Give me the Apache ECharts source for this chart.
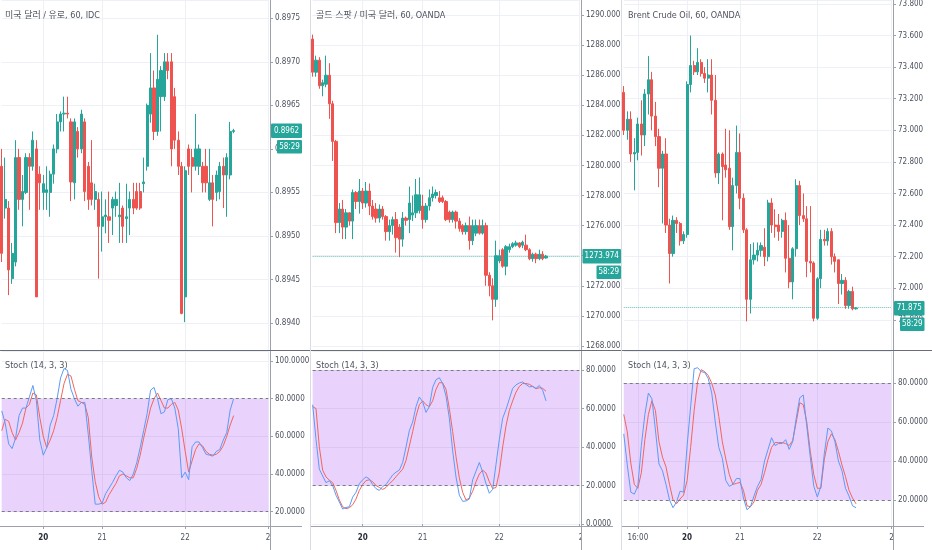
<!DOCTYPE html>
<html>
<head>
<meta charset="utf-8">
<title>Charts</title>
<script src="https://cdn.jsdelivr.net/npm/echarts@6.0.0/dist/echarts.min.js"></script>
<style>
html,body{margin:0;padding:0;background:#ffffff;}
#chart{width:932px;height:550px;}
</style>
</head>
<body>
<div id="chart"></div>
<script>
// ================= DATA =================
const p1Title = '미국 달러 / 유로, 60, IDC';
const p2Title = '골드 스팟 / 미국 달러, 60, OANDA';
const p3Title = 'Brent Crude Oil, 60, OANDA';
const stochTitle = 'Stoch (14, 3, 3)';
const timerText = '58:29';

const p1DayIdx = [12, 29, 53, 77];
const p1DayText = ['20', '21', '22', '23'];
const p2DayIdx = [15, 33, 56, 80];
const p2DayText = ['20', '21', '22', '23'];
const p3DayIdx = [4, 18, 33, 55, 76];
const p3DayText = ['16:00', '20', '21', '22', '23'];

// USD/EUR 60
const p1Open = [0.8958,0.89532,0.89532,0.89451,0.8947,0.8959,0.89542,0.8955,0.8959,0.8958,
0.8960,0.89571,0.8955,0.8955,0.8955,0.89571,0.8960,0.89631,0.8964,0.89641,
0.89631,0.89561,0.8962,0.8960,0.89631,0.8958,0.89561,0.89542,0.89542,0.89511,
0.89522,0.89522,0.89532,0.89535,0.89522,0.89532,0.8952,0.89532,0.89542,0.89551,
0.89551,0.8956,0.8958,0.8964,0.8967,0.8962,0.8966,0.8966,0.8970,0.8970,
0.8966,0.8961,0.8958,0.8943,0.8960,0.8959,0.8958,0.8958,0.8958,0.8958,
0.89542,0.89561,0.8955,0.89551,0.8958,0.8957,0.8957,0.8962];
const p1Close = [0.8948,0.89542,0.89461,0.8948,0.8959,0.89542,0.89551,0.8959,0.8958,0.8961,
0.8943,0.89561,0.8956,0.89553,0.89571,0.8960,0.89631,0.8964,0.89641,0.8964,
0.89562,0.89631,0.8960,0.8964,0.89551,0.89542,0.89542,0.89551,0.89511,0.89522,
0.89524,0.89518,0.89542,0.89542,0.89524,0.89511,0.89522,0.89542,0.89532,0.89532,
0.89532,0.89562,0.8965,0.8967,0.8962,0.8968,0.8969,0.8970,0.8969,0.8960,
0.8961,0.8958,0.89411,0.89575,0.8958,0.8958,0.8960,0.8960,0.89561,0.89561,
0.89561,0.89542,0.8957,0.8958,0.8957,0.8959,0.8962,0.89621];
const p1Low = [0.8947,0.8952,0.89432,0.89445,0.89465,0.8953,0.89511,0.89548,0.8953,0.89575,
0.8943,0.8953,0.8953,0.8953,0.89522,0.8956,0.89595,0.8962,0.8962,0.89635,
0.8954,0.89542,0.8959,0.89595,0.8954,0.8953,0.89535,0.8953,0.89451,0.89482,
0.89503,0.89492,0.89501,0.89522,0.89492,0.89492,0.89492,0.89501,0.89525,0.8953,
0.8953,0.8955,0.89575,0.8963,0.8961,0.89615,0.8962,0.89655,0.8968,0.8958,
0.8960,0.8957,0.8941,0.89401,0.8957,0.8955,0.89575,0.8957,0.8955,0.8955,
0.8954,0.89511,0.8954,0.89542,0.89532,0.89522,0.89565,0.89618];
const p1High = [0.8960,0.8959,0.8954,0.89492,0.8961,0.8960,0.8957,0.89595,0.89595,0.8962,
0.8961,0.8958,0.8957,0.8958,0.89575,0.89605,0.8964,0.89643,0.8966,0.8966,
0.89635,0.89635,0.89625,0.89645,0.89635,0.89585,0.8961,0.8956,0.8955,0.89551,
0.89542,0.89551,0.89545,0.89551,0.89561,0.89535,0.8956,0.89551,0.89561,0.89561,
0.89561,0.8959,0.89652,0.8971,0.8969,0.89731,0.89695,0.8971,0.8971,0.8971,
0.8967,0.8962,0.89585,0.8958,0.89605,0.8960,0.8964,0.89605,0.89585,0.8960,
0.8960,0.8957,0.89575,0.89585,0.8959,0.89595,0.89631,0.89623];
const p1K = [73.5,67,56,53.5,59,71,75,75,81,87,
79,58,50,54,66,71,80,91,96,95,
85,80,76,78,78,61,42,24,24,24.5,
29.5,32.5,35.5,39,42,41,38,36.5,40,46,
54,63,72,84.5,86,80,72,73,79.5,80,
75,64,38,41,37,54.5,57,57,54,50.5,
50,49.5,52,53,58,62,74,80];
const p1D = [63,69,68,62,58,62,67,75,77,83,
82,70,60,54,58,63,70,79,88,93,
92,85,79,78,77,70,49,36,28,24,
25,29,32,35,39,40,39,38,38,43,
50,59,67,75,80,83,79,75,75,77,
78,74,64,52,41,47,53,56,55,52,
50.5,50,50.5,52,55,60,66,71];

// Gold spot / USD 60
const p2Open = [1288.4,1286.2,1287.0,1285.3,1285.4,1286.0,1284.1,1281.6,1276.2,1277.1,
1275.9,1276.85,1276.3,1278.2,1277.6,1278.3,1277.5,1278.3,1277.3,1277.1,
1276.5,1277.1,1276.6,1275.6,1276.0,1276.4,1275.9,1275.1,1276.5,1276.4,
1276.7,1276.85,1277.0,1277.3,1276.4,1277.3,1277.85,1278.0,1277.85,1277.85,
1277.6,1276.9,1276.4,1276.9,1276.3,1276.0,1275.6,1276.0,1275.0,1275.5,
1276.0,1275.5,1276.0,1272.7,1272.0,1271.1,1273.65,1274.4,1273.3,1274.4,
1274.6,1274.7,1274.85,1274.7,1274.7,1274.4,1273.8,1274.1,1273.8,1274.1,
1273.85];
const p2Close = [1286.2,1287.0,1285.3,1285.5,1286.0,1284.1,1281.6,1276.2,1277.1,1275.9,
1276.85,1276.3,1278.2,1277.6,1278.3,1277.5,1278.3,1277.3,1276.6,1276.5,
1277.1,1276.6,1275.6,1276.0,1276.4,1275.2,1275.1,1276.5,1276.35,1277.5,
1276.85,1278.05,1278.05,1276.4,1277.3,1277.85,1278.1,1278.2,1277.6,1277.6,
1276.4,1276.4,1276.9,1276.3,1275.8,1275.6,1276.0,1275.0,1276.0,1276.0,
1275.5,1276.0,1272.7,1272.0,1271.1,1274.0,1274.0,1273.3,1274.6,1274.6,
1274.8,1274.85,1274.6,1274.9,1274.4,1273.8,1274.1,1273.8,1274.1,1273.8,
1273.974];
const p2Low = [1285.9,1285.9,1285.1,1284.6,1285.2,1283.1,1280.3,1275.5,1275.5,1275.1,
1275.1,1276.0,1275.1,1277.1,1276.8,1277.1,1277.2,1276.7,1276.4,1276.2,
1276.2,1276.4,1275.0,1275.0,1275.4,1274.2,1273.9,1274.6,1276.0,1275.5,
1276.3,1276.5,1276.8,1275.8,1276.2,1277.0,1277.6,1277.8,1277.5,1277.5,
1276.3,1276.2,1276.2,1275.8,1275.6,1275.4,1275.4,1274.4,1274.7,1275.3,
1275.4,1275.4,1272.0,1271.3,1269.7,1270.6,1273.5,1273.2,1272.7,1274.2,
1274.5,1274.6,1274.5,1274.5,1274.3,1273.7,1273.6,1273.5,1273.7,1273.7,
1273.8];
const p2High = [1288.7,1287.3,1287.2,1285.7,1287.3,1286.8,1284.3,1281.7,1277.5,1277.7,
1277.1,1276.9,1278.4,1278.3,1279.1,1278.5,1278.9,1278.8,1277.7,1277.5,
1277.4,1277.3,1276.7,1276.4,1276.6,1276.9,1276.1,1276.9,1276.6,1278.6,
1278.0,1279.1,1279.2,1278.05,1277.5,1278.4,1278.6,1278.4,1278.3,1278.0,
1277.7,1277.0,1277.0,1277.0,1276.5,1276.1,1276.2,1276.6,1276.4,1276.4,
1276.4,1276.4,1276.2,1272.9,1272.5,1275.0,1274.4,1274.5,1274.7,1274.8,
1274.9,1275.0,1274.9,1275.0,1275.4,1274.5,1274.2,1274.2,1274.4,1274.3,
1274.05];
const p2K = [62,44,28.5,25,21.5,22.5,20,15,11.5,7.8,
8.6,9,14,16.5,21,23,24.5,23.5,20.5,18.4,
17.5,19.5,20.5,23,25.5,27,28,32,40,48.5,
53,61,66,63.5,58,61,71,75,76,73,
66.5,55,38,24.5,15,11.8,12,13,23,27.5,
32,27,21,16,18,31,44,55,59.5,65,
70.5,72.3,73.3,73.8,72.5,71.3,71.5,70.5,72,69.5,
64];
const p2D = [61,60,40,28,24.5,22.8,21.5,17.5,12.5,9,
8,8.5,10,13,17.5,20.5,22.6,23,22,20,
19,18,19,21,22.5,24.6,26.6,28.5,33,40.5,
48,56,62,64,62,61,64,70,73.5,73.3,
70,60,48,35,24,16.5,12.5,13.5,17,22,
26,28,26.5,22,18.5,19,27,40,51,59,
64,68.5,71.5,73,73,72.6,71.5,70.3,70.8,70.5,
69];

// Brent crude oil 60
const p3Open = [73.24,73.0,73.07,72.85,72.86,73.04,72.97,73.23,73.32,73.09,
72.96,72.76,72.85,72.4,72.22,72.43,72.41,72.3,72.34,73.29,
73.41,73.37,73.43,73.36,73.33,73.35,73.19,72.73,72.85,72.78,
72.76,72.39,72.65,72.86,72.57,72.37,71.93,72.18,72.21,72.24,
72.26,72.2,72.54,72.4,72.4,72.36,72.43,72.19,72.04,72.25,
72.65,72.46,72.44,72.17,72.16,71.81,72.06,72.31,72.3,72.36,
72.2,72.18,72.03,72.05,71.89,71.98,71.87];
const p3Close = [73.0,73.07,72.85,72.86,73.04,72.97,73.23,73.32,73.09,72.96,
72.76,72.85,72.4,72.22,72.43,72.41,72.3,72.34,73.29,73.41,
73.37,73.43,73.36,73.33,73.35,73.19,72.73,72.85,72.77,72.75,
72.39,72.65,72.86,72.57,72.37,71.93,72.18,72.21,72.24,72.27,
72.2,72.54,72.4,72.39,72.36,72.43,72.19,72.04,72.25,72.65,
72.46,72.44,72.17,72.16,71.81,72.06,72.31,72.3,72.36,72.2,
72.17,72.03,72.05,71.89,71.98,71.87,71.875];
const p3Low = [72.97,72.94,72.8,72.62,72.81,72.84,72.9,73.1,73.0,72.9,
72.64,72.41,72.35,72.03,72.2,72.35,72.27,72.28,72.32,73.24,
73.35,73.35,73.34,73.3,73.24,73.1,72.7,72.66,72.43,72.7,
72.37,72.24,72.6,72.5,72.35,71.79,71.84,72.15,72.17,72.2,
72.14,72.17,72.35,72.32,72.3,72.32,72.1,72.0,71.93,72.2,
72.4,72.42,72.07,72.1,71.79,71.8,72.0,72.27,72.27,72.15,
72.1,71.9,71.96,71.87,71.87,71.86,71.865];
const p3High = [73.28,73.12,73.12,72.95,73.08,73.19,73.26,73.47,73.37,73.18,
73.01,72.87,72.95,72.44,72.46,72.45,72.42,72.36,73.31,73.6,
73.44,73.52,73.45,73.4,73.45,73.45,73.35,72.86,72.86,73.01,
73.0,72.7,73.03,72.98,72.6,72.38,72.28,72.29,72.29,72.29,
72.38,72.56,72.57,72.5,72.47,72.44,72.48,72.4,72.26,72.69,
72.68,72.6,72.52,72.52,72.17,72.07,72.37,72.37,72.38,72.38,
72.22,72.18,72.09,72.07,71.99,72.01,71.88];
const p3K = [54,38,24,23,27,48,64,75,72,56,
38.5,35,28,20,16,19,24.5,24,48,68,
87.5,88,86,85.5,82.5,75,60,47,41.5,30,
27,28,31,31,21,15,16.5,22,27,30.5,
40,46,52,48,49,49,51,46,50,62,
72.5,74,58,42,27,21.5,27,44,57,55.5,
50,40,35,26,22,17,16];
const p3D = [64,55,39,28,26,34,51,64,71,66,
50,42,37,28,20,18,20.5,22.5,30,47,
66,81,87,86,84,80,74,63,50,41,
33,28,28.5,29,25,17,16.5,19,25,28,
34,41,47,49.5,49.5,49.5,49,48,50.5,60,
70,69,60,45,33,26,26,41,50,54,
51,45,38,32,25,21,18];

const stochBandLow = 20;
const stochBandHigh = 80;

// ================= STYLE / LAYOUT =================
const UP = '#26a69a', DOWN = '#ef5350';
const K_COLOR = '#5b9bf8', D_COLOR = '#f4645a';
const TITLE_FONT = '"DejaVu Sans Condensed","Noto Sans CJK KR",sans-serif';
const AXIS_FONT = '"DejaVu Sans Condensed","Liberation Sans",sans-serif';
const TFS = 9;
const AFS = 8;
const LABEL_COLOR = '#4c525e';
const TITLE_COLOR = '#50535e';
const GRID_COLOR = '#edf0f5';
const AXIS_COLOR = '#9ea1a9';

const panels = [
  {L:0, W:270, N:78, end:310, titleX:5, yMin:0.89369, yMax:0.89771, split:8, dec:4,
   sMin:12.4, sMax:105.3, boxR:302, boxW:31, box2W:25, pad:4,
   title:p1Title, open:p1Open, close:p1Close, low:p1Low, high:p1High, k:p1K, d:p1D,
   dayIdx:p1DayIdx, dayText:p1DayText},
  {L:311, W:270, N:81, end:621, titleX:316, yMin:1267.73, yMax:1291.0, split:12, dec:3,
   sMin:-1.0, sMax:89.9, boxR:621, boxW:38.5, box2W:24.5, pad:8,
   title:p2Title, open:p2Open, close:p2Close, low:p2Low, high:p2High, k:p2K, d:p2D,
   dayIdx:p2DayIdx, dayText:p2DayText},
  {L:622, W:271, N:77, end:932, titleX:628, yMin:71.609, yMax:73.825, split:11, dec:3,
   sMin:6.6, sMax:96.6, boxR:924.5, boxW:30.5, box2W:24.5, pad:5,
   title:p3Title, open:p3Open, close:p3Close, low:p3Low, high:p3High, k:p3K, d:p3D,
   dayIdx:p3DayIdx, dayText:p3DayText}
];

const grid = [], xAxis = [], yAxis = [], series = [];

panels.forEach((p, k) => {
  const s = p.W / p.N;
  const left = p.L + s / 2, width = (p.N - 1) * s;
  grid.push({left: left, top: 0, width: width, height: 350, containLabel: false, outerBoundsMode: 'none'});
  grid.push({left: left, top: 351, width: width, height: 175, containLabel: false, outerBoundsMode: 'none'});
  const cats = [];
  for (let i = 0; i < p.N; i++) cats.push(String(i));
  const isDay = (idx) => p.dayIdx.indexOf(idx) >= 0;
  const splitX = {show: true, interval: (idx) => isDay(idx), lineStyle: {color: GRID_COLOR, width: 1}};
  xAxis.push({type: 'category', gridIndex: 2 * k, data: cats, boundaryGap: false,
    axisLine: {show: false}, axisTick: {show: false}, axisLabel: {show: false}, splitLine: splitX});
  xAxis.push({type: 'category', gridIndex: 2 * k + 1, data: cats, boundaryGap: false,
    axisLine: {show: false},
    axisTick: {show: true, interval: (idx) => isDay(idx), length: 3, lineStyle: {color: AXIS_COLOR}},
    axisLabel: {show: true, interval: (idx) => isDay(idx), margin: 8, fontSize: AFS, fontFamily: AXIS_FONT,
      color: LABEL_COLOR,
      formatter: function (v, idx) {
        const j = p.dayIdx.indexOf(idx);
        if (j < 0) return '';
        const t = p.dayText[j];
        if (j === p.dayIdx.length - 1) return '{c|' + t + '}';
        if (t === '20') return '{b|' + t + '}';
        return t;
      },
      rich: {
        b: {fontWeight: 'bold', color: '#2a2e39', fontSize: AFS, fontFamily: AXIS_FONT},
        c: {padding: [0, 0, 0, p.pad], color: LABEL_COLOR, fontSize: AFS, fontFamily: AXIS_FONT}
      }},
    splitLine: splitX});

  yAxis.push({type: 'value', gridIndex: 2 * k, position: 'right', offset: s / 2,
    min: p.yMin, max: p.yMax, splitNumber: p.split,
    axisLine: {show: false},
    axisTick: {show: true, length: 3, lineStyle: {color: AXIS_COLOR}},
    axisLabel: {margin: 5, fontSize: AFS, fontFamily: AXIS_FONT, color: LABEL_COLOR,
      showMinLabel: false, showMaxLabel: false, formatter: (v) => v.toFixed(p.dec)},
    splitLine: {show: true, lineStyle: {color: GRID_COLOR}}});
  yAxis.push({type: 'value', gridIndex: 2 * k + 1, position: 'right', offset: s / 2,
    min: p.sMin, max: p.sMax, splitNumber: 5,
    axisLine: {show: false},
    axisTick: {show: true, length: 3, lineStyle: {color: AXIS_COLOR}},
    axisLabel: {margin: 5, fontSize: AFS, fontFamily: AXIS_FONT, color: LABEL_COLOR,
      showMinLabel: false, showMaxLabel: false, formatter: (v) => v.toFixed(4)},
    splitLine: {show: true, lineStyle: {color: GRID_COLOR}}});

  series.push({type: 'candlestick', xAxisIndex: 2 * k, yAxisIndex: 2 * k, clip: false,
    barWidth: 2.6, silent: true,
    data: p.open.map((o, i) => [o, p.close[i], p.low[i], p.high[i]]),
    itemStyle: {color: UP, color0: DOWN, borderColor: UP, borderColor0: DOWN, borderWidth: 1},
    markLine: {silent: true, symbol: ['none', 'none'], label: {show: false}, animation: false,
      lineStyle: {color: UP, type: 'dotted', width: 1, opacity: 0.7},
      data: [{yAxis: p.close[p.close.length - 1]}]}});
  series.push({type: 'line', xAxisIndex: 2 * k + 1, yAxisIndex: 2 * k + 1, data: p.d,
    symbol: 'none', silent: true, z: 2,
    lineStyle: {color: D_COLOR, width: 1}, itemStyle: {color: D_COLOR},
    markArea: {silent: true, animation: false, itemStyle: {color: 'rgba(160,60,240,0.23)'},
      data: [[{yAxis: stochBandLow}, {yAxis: stochBandHigh}]]},
    markLine: {silent: true, animation: false, symbol: ['none', 'none'], label: {show: false},
      lineStyle: {color: '#787b86', type: [3, 3], width: 1},
      data: [{yAxis: stochBandHigh}, {yAxis: stochBandLow}]}});
  series.push({type: 'line', xAxisIndex: 2 * k + 1, yAxisIndex: 2 * k + 1, data: p.k,
    symbol: 'none', silent: true, z: 3,
    lineStyle: {color: K_COLOR, width: 1}, itemStyle: {color: K_COLOR}});
});

const chart = echarts.init(document.getElementById('chart'), null, {renderer: 'canvas'});
chart.setOption({
  animation: false,
  backgroundColor: '#ffffff',
  grid: grid, xAxis: xAxis, yAxis: yAxis, series: series
});

// ---- overlay: separators, titles, price labels ----
const gfx = [];
panels.forEach((p, k) => {
  const ax = p.L + p.W + 0.5;
  gfx.push({type: 'rect', silent: true, z: 100, shape: {x: ax, y: 527, width: p.end - ax, height: 23}, style: {fill: '#ffffff'}});
  gfx.push({type: 'line', silent: true, z: 101, shape: {x1: ax, y1: 0, x2: ax, y2: 550}, style: {stroke: AXIS_COLOR, lineWidth: 1}});
  gfx.push({type: 'line', silent: true, z: 101, shape: {x1: p.L, y1: 526.5, x2: p.end - 8, y2: 526.5}, style: {stroke: AXIS_COLOR, lineWidth: 1}});
  gfx.push({type: 'line', silent: true, z: 101, shape: {x1: p.L, y1: 350.5, x2: p.end, y2: 350.5}, style: {stroke: '#6a6d78', lineWidth: 1}});
  gfx.push({type: 'text', silent: true, z: 102, x: p.titleX, y: 16,
    style: {text: p.title, fill: TITLE_COLOR, fontSize: TFS, fontFamily: TITLE_FONT, verticalAlign: 'middle'}});
  gfx.push({type: 'text', silent: true, z: 102, x: p.titleX, y: 366,
    style: {text: stochTitle, fill: TITLE_COLOR, fontSize: TFS, fontFamily: TITLE_FONT, verticalAlign: 'middle'}});

  const last = p.close[p.close.length - 1];
  const y = chart.convertToPixel({yAxisIndex: 2 * k}, last);
  gfx.push({type: 'rect', silent: true, z: 103, shape: {x: p.boxR - p.boxW, y: y - 7, width: p.boxW, height: 14.5, r: 1}, style: {fill: UP}});
  gfx.push({type: 'text', silent: true, z: 104, x: p.boxR - p.boxW / 2, y: y + 0.3,
    style: {text: last.toFixed(p.dec), fill: '#ffffff', fontSize: AFS, fontFamily: AXIS_FONT, align: 'center', verticalAlign: 'middle'}});
  gfx.push({type: 'rect', silent: true, z: 103, shape: {x: p.boxR - p.box2W, y: y + 9.5, width: p.box2W, height: 13.5, r: 1}, style: {fill: UP}});
  gfx.push({type: 'text', silent: true, z: 104, x: p.boxR - p.box2W / 2, y: y + 16.3,
    style: {text: timerText, fill: '#ffffff', fontSize: AFS, fontFamily: AXIS_FONT, align: 'center', verticalAlign: 'middle'}});
});
[310.5, 621.5].forEach((x) => {
  gfx.push({type: 'line', silent: true, z: 101, shape: {x1: x, y1: 0, x2: x, y2: 550}, style: {stroke: '#d9dce3', lineWidth: 1}});
});
chart.setOption({graphic: gfx});
</script>
</body>
</html>
